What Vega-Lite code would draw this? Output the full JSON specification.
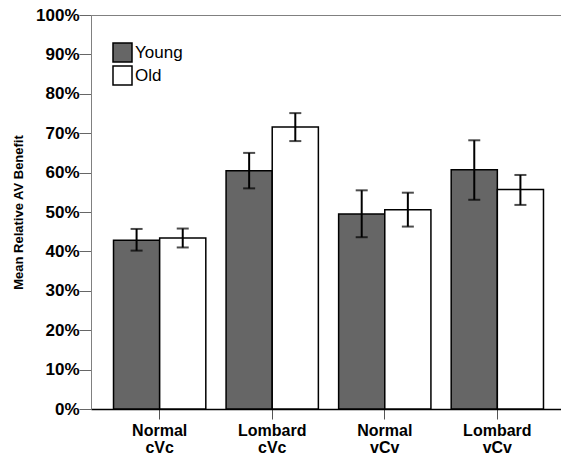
{
  "$schema": "https://vega.github.io/schema/vega-lite/v6.json",
  "autosize": {"type": "none"},
  "padding": {"left": 91, "top": 15, "right": 0, "bottom": 48},
  "width": 475,
  "height": 394,
  "background": "white",
  "config": {"view": {"stroke": "#808080", "strokeWidth": 1}, "font": "Liberation Sans"},
  "data": {"values": [
    {"group": "Normal cVc", "age": "Young", "value": 0.428, "lo": 0.402, "hi": 0.457},
    {"group": "Normal cVc", "age": "Old", "value": 0.434, "lo": 0.410, "hi": 0.458},
    {"group": "Lombard cVc", "age": "Young", "value": 0.605, "lo": 0.560, "hi": 0.650},
    {"group": "Lombard cVc", "age": "Old", "value": 0.716, "lo": 0.680, "hi": 0.751},
    {"group": "Normal vCv", "age": "Young", "value": 0.495, "lo": 0.436, "hi": 0.555},
    {"group": "Normal vCv", "age": "Old", "value": 0.506, "lo": 0.463, "hi": 0.549},
    {"group": "Lombard vCv", "age": "Young", "value": 0.607, "lo": 0.531, "hi": 0.682},
    {"group": "Lombard vCv", "age": "Old", "value": 0.557, "lo": 0.518, "hi": 0.594}
  ]},
  "encoding": {
    "x": {
      "field": "group", "type": "nominal",
      "sort": ["Normal cVc", "Lombard cVc", "Normal vCv", "Lombard vCv"],
      "scale": {"paddingInner": 0.18, "paddingOuter": 0.2},
      "axis": {
        "title": null, "labelAngle": 0,
        "labelExpr": "split(datum.label, ' ')",
        "labelFontWeight": "bold", "labelFontSize": 16, "labelColor": "black",
        "labelLineHeight": 17, "labelPadding": 3,
        "tickSize": 10, "tickColor": "#555555",
        "domainColor": "black", "domainWidth": 1.5
      }
    },
    "xOffset": {"field": "age", "type": "nominal", "sort": ["Young", "Old"], "scale": {"paddingInner": 0, "paddingOuter": 0}}
  },
  "layer": [
    {
      "mark": {"type": "bar", "stroke": "black", "strokeWidth": 1.5},
      "encoding": {
        "y": {
          "field": "value", "type": "quantitative", "title": "Mean Relative AV Benefit",
          "scale": {"domain": [0, 1]},
          "axis": {
            "values": [0, 0.1, 0.2, 0.3, 0.4, 0.5, 0.6, 0.7, 0.8, 0.9, 1],
            "format": ".0%", "grid": false, "labelOverlap": false,
            "labelFontSize": 17, "labelFontWeight": "bold", "labelColor": "black", "labelPadding": 0,
            "tickSize": 12, "tickColor": "#666666", "domainColor": "#808080",
            "titleFontSize": 13, "titleFontWeight": "bold", "titleColor": "black", "titlePadding": 10
          }
        },
        "fill": {
          "field": "age", "type": "nominal", "sort": ["Young", "Old"],
          "scale": {"domain": ["Young", "Old"], "range": ["#666666", "#ffffff"]},
          "legend": {
            "title": null, "orient": "none", "legendX": 21, "legendY": 27,
            "symbolType": "square", "symbolSize": 361,
            "symbolStrokeColor": "black", "symbolStrokeWidth": 1.5, "symbolOpacity": 1,
            "labelFontSize": 17, "labelColor": "black", "labelOffset": 2,
            "rowPadding": -2.5, "padding": 0
          }
        }
      }
    },
    {
      "mark": {"type": "rule", "strokeWidth": 2, "color": "black"},
      "encoding": {
        "y": {
          "field": "lo", "type": "quantitative", "title": "Mean Relative AV Benefit",
          "scale": {"domain": [0, 1]},
          "axis": {
            "values": [0, 0.1, 0.2, 0.3, 0.4, 0.5, 0.6, 0.7, 0.8, 0.9, 1],
            "format": ".0%", "grid": false, "labelOverlap": false,
            "labelFontSize": 17, "labelFontWeight": "bold", "labelColor": "black", "labelPadding": 0,
            "tickSize": 12, "tickColor": "#666666", "domainColor": "#808080",
            "titleFontSize": 13, "titleFontWeight": "bold", "titleColor": "black", "titlePadding": 10
          }
        },
        "y2": {"field": "hi"}
      }
    },
    {
      "mark": {"type": "tick", "size": 12, "thickness": 2, "color": "black"},
      "encoding": {
        "y": {
          "field": "lo", "type": "quantitative", "title": "Mean Relative AV Benefit",
          "scale": {"domain": [0, 1]},
          "axis": {
            "values": [0, 0.1, 0.2, 0.3, 0.4, 0.5, 0.6, 0.7, 0.8, 0.9, 1],
            "format": ".0%", "grid": false, "labelOverlap": false,
            "labelFontSize": 17, "labelFontWeight": "bold", "labelColor": "black", "labelPadding": 0,
            "tickSize": 12, "tickColor": "#666666", "domainColor": "#808080",
            "titleFontSize": 13, "titleFontWeight": "bold", "titleColor": "black", "titlePadding": 10
          }
        }
      }
    },
    {
      "mark": {"type": "tick", "size": 12, "thickness": 2, "color": "black"},
      "encoding": {
        "y": {
          "field": "hi", "type": "quantitative", "title": "Mean Relative AV Benefit",
          "scale": {"domain": [0, 1]},
          "axis": {
            "values": [0, 0.1, 0.2, 0.3, 0.4, 0.5, 0.6, 0.7, 0.8, 0.9, 1],
            "format": ".0%", "grid": false, "labelOverlap": false,
            "labelFontSize": 17, "labelFontWeight": "bold", "labelColor": "black", "labelPadding": 0,
            "tickSize": 12, "tickColor": "#666666", "domainColor": "#808080",
            "titleFontSize": 13, "titleFontWeight": "bold", "titleColor": "black", "titlePadding": 10
          }
        }
      }
    }
  ]
}
